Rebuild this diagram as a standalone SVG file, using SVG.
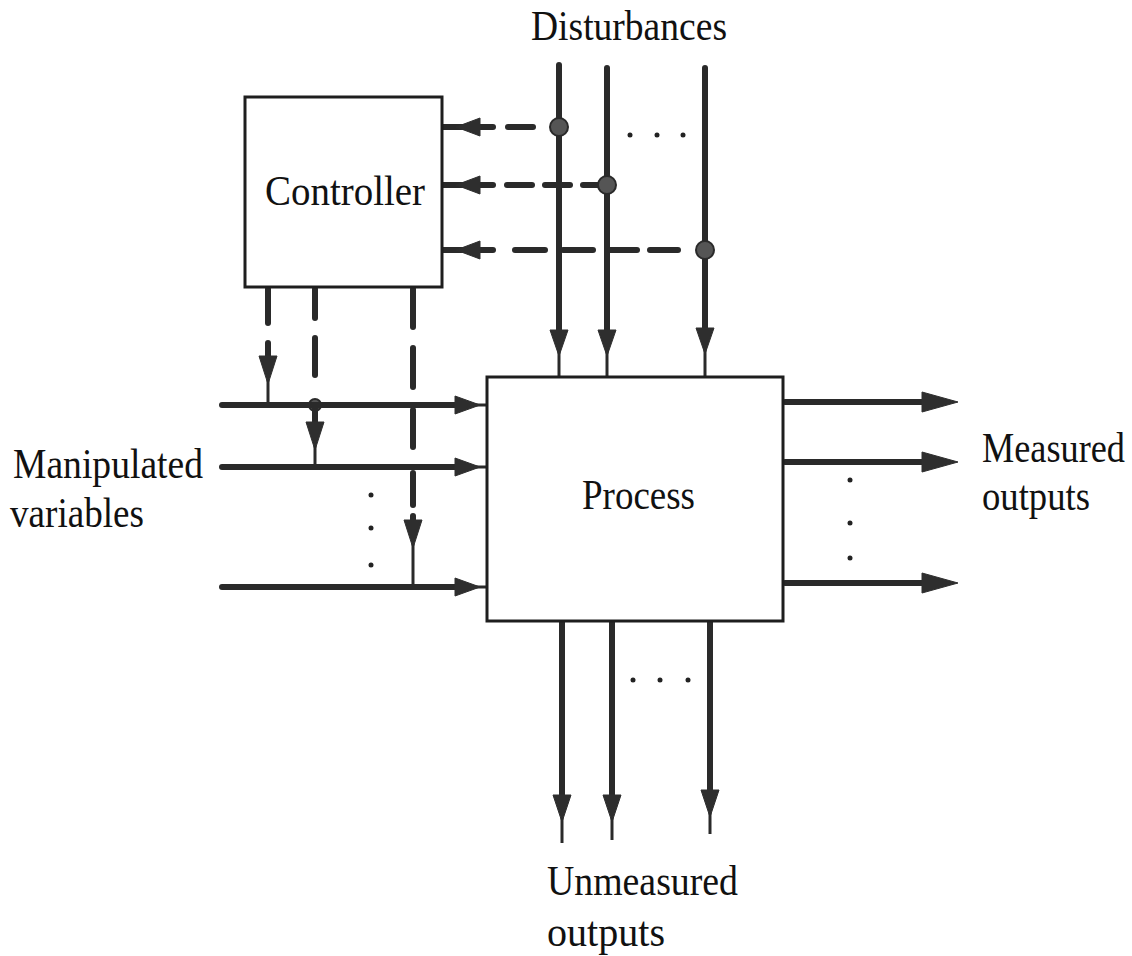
<svg xmlns="http://www.w3.org/2000/svg" width="1132" height="956" viewBox="0 0 1132 956">
  <style>
    .ln { stroke:#2a2a2a; stroke-width:6; fill:none; stroke-linecap:round; }
    .thin { stroke:#2a2a2a; stroke-width:3; fill:none; }
    .hd { fill:#2e2e2e; stroke:#2e2e2e; stroke-width:1; }
    .jn { fill:#555; stroke:#2a2a2a; stroke-width:2; }
    .box { fill:#fff; stroke:#1e1e1e; stroke-width:3; }
    .lbl { font-family:"Liberation Serif", "Times New Roman", serif; font-size:36px; fill:#111; }
    .dot { fill:#222; }
  </style>
  <rect width="1132" height="956" fill="#fff"/>

  <g id="connectors">
    <!-- Disturbance lines -->
    <line class="ln" x1="559" y1="65" x2="559" y2="340"/>
    <line class="thin" x1="559" y1="340" x2="559" y2="377"/>
    <polygon class="hd" points="550,330 568,330 559,356"/>
    <line class="ln" x1="607" y1="68" x2="607" y2="340"/>
    <line class="thin" x1="607" y1="340" x2="607" y2="377"/>
    <polygon class="hd" points="598,330 616,330 607,356"/>
    <line class="ln" x1="705" y1="68" x2="705" y2="338"/>
    <line class="thin" x1="705" y1="338" x2="705" y2="377"/>
    <polygon class="hd" points="696,328 714,328 705,354"/>

    <!-- Feedforward dashed lines to controller -->
    <line class="ln" x1="443" y1="127" x2="493" y2="127"/>
    <polygon class="hd" points="456,127 480,118 480,136"/>
    <line class="ln" x1="508" y1="127" x2="533" y2="127"/>
    <circle class="jn" cx="559" cy="127" r="9"/>

    <line class="ln" x1="443" y1="185" x2="493" y2="185"/>
    <polygon class="hd" points="456,185 480,176 480,194"/>
    <line class="ln" x1="507" y1="185" x2="532" y2="185"/>
    <line class="ln" x1="545" y1="185" x2="570" y2="185"/>
    <line class="ln" x1="583" y1="185" x2="598" y2="185"/>
    <circle class="jn" cx="607" cy="185" r="9"/>

    <line class="ln" x1="443" y1="250" x2="493" y2="250"/>
    <polygon class="hd" points="456,250 480,241 480,259"/>
    <line class="ln" x1="515" y1="250" x2="545" y2="250"/>
    <line class="ln" x1="563" y1="250" x2="593" y2="250"/>
    <line class="ln" x1="610" y1="250" x2="637" y2="250"/>
    <line class="ln" x1="650" y1="250" x2="678" y2="250"/>
    <circle class="jn" cx="705" cy="250" r="9"/>

    <!-- Controller outputs (dashed) -->
    <line class="ln" x1="268" y1="289" x2="268" y2="323"/>
    <line class="ln" x1="268" y1="343" x2="268" y2="360"/>
    <polygon class="hd" points="259,356 277,356 268,384"/>
    <line class="thin" x1="268" y1="380" x2="268" y2="405"/>

    <line class="ln" x1="315" y1="289" x2="315" y2="318"/>
    <line class="ln" x1="315" y1="338" x2="315" y2="375"/>
    <circle class="jn" cx="315" cy="405" r="6"/>
    <line class="ln" x1="315" y1="405" x2="315" y2="425"/>
    <polygon class="hd" points="306,422 324,422 315,450"/>
    <line class="thin" x1="315" y1="446" x2="315" y2="467"/>

    <line class="ln" x1="413" y1="289" x2="413" y2="327"/>
    <line class="ln" x1="413" y1="348" x2="413" y2="387"/>
    <line class="ln" x1="413" y1="410" x2="413" y2="447"/>
    <line class="ln" x1="413" y1="473" x2="413" y2="505"/>
    <line class="ln" x1="413" y1="516" x2="413" y2="524"/>
    <polygon class="hd" points="404,520 422,520 413,548"/>
    <line class="thin" x1="413" y1="544" x2="413" y2="587"/>

    <!-- Manipulated variables -->
    <line class="ln" x1="222" y1="405" x2="470" y2="405"/>
    <line class="thin" x1="470" y1="405" x2="487" y2="405"/>
    <polygon class="hd" points="455,396 455,414 480,405"/>
    <line class="ln" x1="222" y1="467" x2="470" y2="467"/>
    <line class="thin" x1="470" y1="467" x2="487" y2="467"/>
    <polygon class="hd" points="455,458 455,476 480,467"/>
    <line class="ln" x1="222" y1="587" x2="470" y2="587"/>
    <line class="thin" x1="470" y1="587" x2="487" y2="587"/>
    <polygon class="hd" points="455,578 455,596 480,587"/>

    <!-- Measured outputs -->
    <line class="ln" x1="785" y1="402" x2="930" y2="402"/>
    <polygon class="hd" points="922,392 922,412 958,402"/>
    <line class="ln" x1="785" y1="462" x2="930" y2="462"/>
    <polygon class="hd" points="922,452 922,472 958,462"/>
    <line class="ln" x1="785" y1="583" x2="930" y2="583"/>
    <polygon class="hd" points="922,573 922,593 958,583"/>

    <!-- Unmeasured outputs -->
    <line class="ln" x1="562" y1="622" x2="562" y2="800"/>
    <polygon class="hd" points="553,795 571,795 562,822"/>
    <line class="thin" x1="562" y1="818" x2="562" y2="843"/>
    <line class="ln" x1="612" y1="622" x2="612" y2="800"/>
    <polygon class="hd" points="603,795 621,795 612,822"/>
    <line class="thin" x1="612" y1="818" x2="612" y2="840"/>
    <line class="ln" x1="710" y1="622" x2="710" y2="795"/>
    <polygon class="hd" points="701,790 719,790 710,817"/>
    <line class="thin" x1="710" y1="813" x2="710" y2="834"/>

    <!-- Ellipsis dots -->
    <circle class="dot" cx="630" cy="135" r="2.5"/>
    <circle class="dot" cx="657" cy="135" r="2.5"/>
    <circle class="dot" cx="683" cy="135" r="2.5"/>
    <circle class="dot" cx="371" cy="495" r="2.5"/>
    <circle class="dot" cx="371" cy="528" r="2.5"/>
    <circle class="dot" cx="371" cy="565" r="2.5"/>
    <circle class="dot" cx="850" cy="480" r="2.5"/>
    <circle class="dot" cx="850" cy="523" r="2.5"/>
    <circle class="dot" cx="850" cy="558" r="2.5"/>
    <circle class="dot" cx="633" cy="680" r="2.5"/>
    <circle class="dot" cx="660" cy="680" r="2.5"/>
    <circle class="dot" cx="688" cy="680" r="2.5"/>
  </g>

  <g id="controller">
    <rect class="box" x="245" y="97" width="197" height="190"/>
    <text class="lbl" transform="translate(265,205) scale(1,1.2)" textLength="160" lengthAdjust="spacingAndGlyphs">Controller</text>
  </g>

  <g id="process">
    <rect class="box" x="487" y="377" width="296" height="244"/>
    <text class="lbl" transform="translate(582,509) scale(1,1.2)" textLength="113" lengthAdjust="spacingAndGlyphs">Process</text>
  </g>

  <g id="label-disturbances">
    <text class="lbl" transform="translate(531,40) scale(1,1.2)" textLength="196" lengthAdjust="spacingAndGlyphs">Disturbances</text>
  </g>
  <g id="label-manipulated">
    <text class="lbl" transform="translate(13,478) scale(1,1.2)" textLength="190" lengthAdjust="spacingAndGlyphs">Manipulated</text>
    <text class="lbl" transform="translate(10,527) scale(1,1.2)" textLength="134" lengthAdjust="spacingAndGlyphs">variables</text>
  </g>
  <g id="label-measured">
    <text class="lbl" transform="translate(982,462) scale(1,1.2)" textLength="143" lengthAdjust="spacingAndGlyphs">Measured</text>
    <text class="lbl" transform="translate(982,510) scale(1,1.2)" textLength="108" lengthAdjust="spacingAndGlyphs">outputs</text>
  </g>
  <g id="label-unmeasured">
    <text class="lbl" transform="translate(547,895) scale(1,1.2)" textLength="191" lengthAdjust="spacingAndGlyphs">Unmeasured</text>
    <text class="lbl" transform="translate(547,946) scale(1,1.2)" textLength="118" lengthAdjust="spacingAndGlyphs">outputs</text>
  </g>
</svg>
